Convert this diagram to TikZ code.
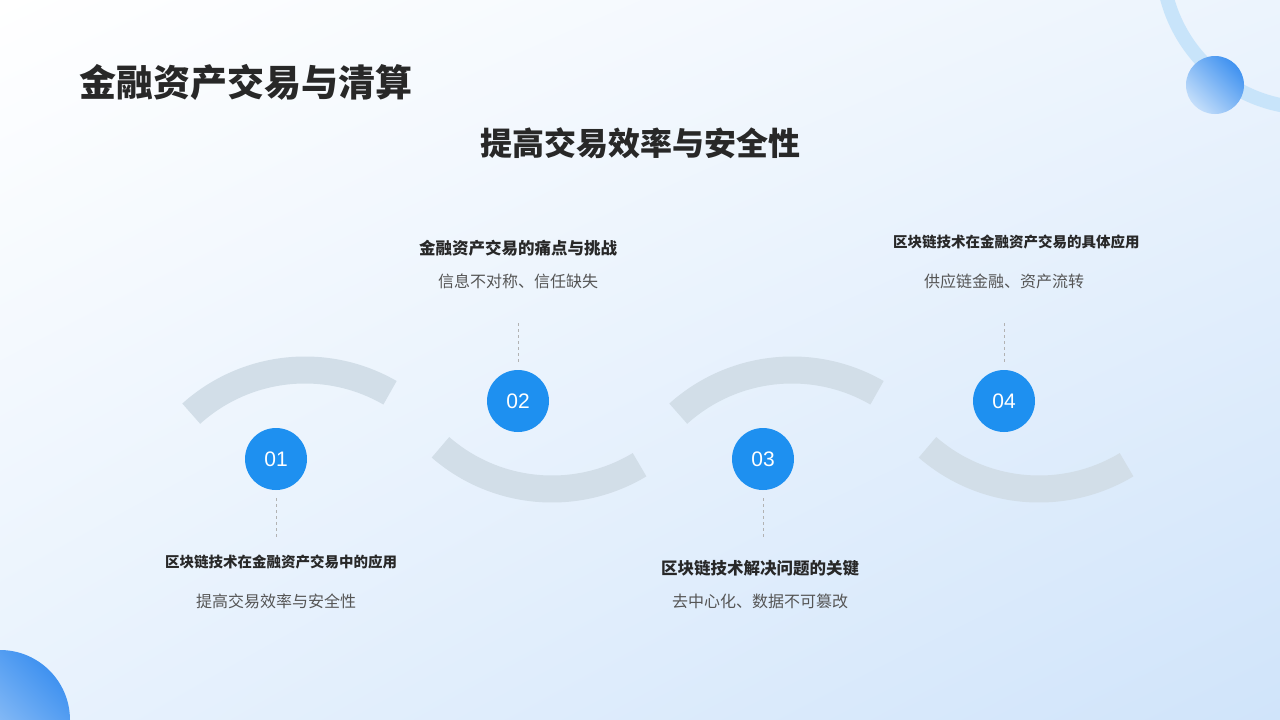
\documentclass[tikz,border=0pt]{standalone}
\usepackage{fontspec}
\usetikzlibrary{shadings}
\setmainfont{Noto Sans CJK SC}
\newfontfamily\numfont{Liberation Sans}
\definecolor{stepblue}{RGB}{30,144,240}
\definecolor{arcgray}{RGB}{210,222,232}
\definecolor{bodygray}{RGB}{85,85,85}
\definecolor{headdark}{RGB}{40,40,40}
\definecolor{bgtr}{RGB}{236,244,253}
\definecolor{bgbl}{RGB}{232,242,253}
\definecolor{bgbr}{RGB}{208,228,250}
\definecolor{ringblue}{RGB}{200,228,250}
\definecolor{balldark}{RGB}{64,146,240}
\definecolor{balllight}{RGB}{196,222,250}
\tikzset{
  stepdot/.style={circle, fill=stepblue, minimum size=62pt, inner sep=0pt, text=white, font=\numfont\fontsize{21}{21}\selectfont},
  steparc/.style={arcgray, line width=27pt},
  stephead/.style={text=headdark, font=\fontsize{14.5}{14}\selectfont\bfseries, align=center, text width=222pt},
  bighead/.style={text=headdark, font=\fontsize{16.5}{17}\selectfont\bfseries},
  stepbody/.style={text=bodygray, font=\fontsize{16}{17}\selectfont},
  stepline/.style={gray!60, dashed, thin}
}
\begin{document}
\begin{tikzpicture}[x=1pt, y=-1pt]
    \useasboundingbox (0,0) rectangle (1280,720);
    \shade[upper left=white, upper right=bgtr, lower left=bgbl, lower right=bgbr]
      (0,0) rectangle (1280,720);

    % decoration
    \begin{scope}
        \clip (0,0) rectangle (1280,720);
        \draw[line width=14pt, ringblue] (1310,-40) circle (148);
        \shade[left color=balldark, right color=balllight, shading angle=-45]
            (1215,85) circle (29);
        \shade[left color=balldark, right color=balllight, shading angle=-45]
            (0,720) circle (70);
    \end{scope}

    \node[anchor=west, text=headdark, font=\fontsize{37}{37}\selectfont\bfseries] (title) at (76,82) {金融资产交易与清算};
    \node[text=headdark, font=\fontsize{32}{32}\selectfont\bfseries] (subtitle) at (640,143) {提高交易效率与安全性};

    % arcs
    \foreach \dx in {0, 487} {
        \draw[steparc] ({305+\dx+170*cos(132)}, {540-170*sin(132)}) arc[start angle=-132, end angle=-60, radius=170];
        \draw[steparc] ({552+\dx+170*cos(131)}, {319+170*sin(131)}) arc[start angle=131, end angle=59, radius=170];
    }

    % steps
    \node[stepdot] (n1) at (276,459) {01};
    \node[stepdot] (n2) at (518,401) {02};
    \node[stepdot] (n3) at (763,459) {03};
    \node[stepdot] (n4) at (1004,401) {04};

    \coordinate (e1) at (276,540);
    \coordinate (e2) at (518,320);
    \coordinate (e3) at (763,540);
    \coordinate (e4) at (1004,320);
    \draw[stepline] ([yshift=-8pt]n1.south) -- (e1);
    \draw[stepline] ([yshift=8pt]n2.north) -- (e2);
    \draw[stepline] ([yshift=-8pt]n3.south) -- (e3);
    \draw[stepline] ([yshift=8pt]n4.north) -- (e4);

    \node[stephead] (h1) at (276,562) {区块链技术在金融资产交易中的应用};
    \node[stepbody] (b1) at (276,601) {提高交易效率与安全性};
    \node[bighead] (h2) at (518,248) {金融资产交易的痛点与挑战};
    \node[stepbody] (b2) at (518,281) {信息不对称、信任缺失};
    \node[bighead] (h3) at (760,568) {区块链技术解决问题的关键};
    \node[stepbody] (b3) at (760,601) {去中心化、数据不可篡改};
    \node[stephead] (h4) at (1004,242) {区块链技术在金融资产交易的具体应用};
    \node[stepbody] (b4) at (1004,281) {供应链金融、资产流转};
\end{tikzpicture}
\end{document}
